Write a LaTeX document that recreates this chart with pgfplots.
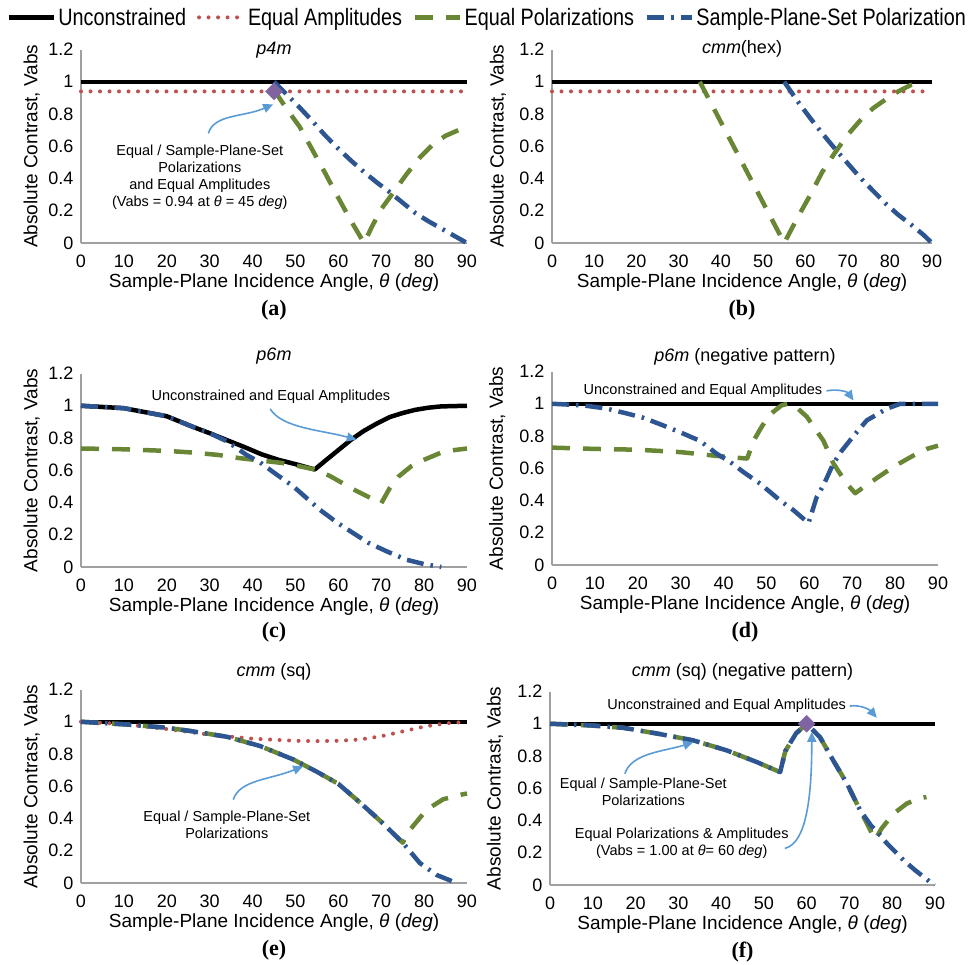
\documentclass[border=0pt]{standalone}
\usepackage{fontspec}
\setmainfont{Liberation Sans}
\newfontfamily\lserif{Liberation Serif}
\newfontfamily\legfont[FakeStretch=0.835]{Liberation Sans}
\usepackage{pgfplots}
\pgfplotsset{compat=1.18}
\usetikzlibrary{arrows.meta}
\definecolor{redc}{HTML}{C0504D}
\definecolor{grnc}{RGB}{104,134,52}
\definecolor{bluc}{RGB}{45,85,145}
\definecolor{arrc}{HTML}{5B9BD5}
\definecolor{purp}{HTML}{8064A2}
\definecolor{axgray}{RGB}{160,160,160}

\tikzset{
 blk/.style={black, line width=4.5pt, line join=round},
 redd/.style={color=redc, line width=4pt, line cap=round, dash pattern=on 0pt off 9.5pt},
 grn/.style={color=grnc, line width=4.5pt, line join=round, dash pattern=on 18pt off 13pt},
 blu/.style={color=bluc, line width=4.5pt, line join=round, dash pattern=on 17pt off 7pt on 2.5pt off 7pt},
 ann/.style={font=\fontsize{14.5}{17}\selectfont, align=center, inner sep=0pt},
 arr/.style={draw=arrc, line width=1.6pt, -{Triangle[length=10pt,width=9pt]}},
 sub/.style={font=\lserif\bfseries\fontsize{22}{22}\selectfont},
}
\pgfplotsset{
 panel/.style={
  scale only axis, width=386pt, height=193.5pt,
  xmin=0, xmax=90, ymin=0, ymax=1.2,
  xtick={0,10,...,90}, ytick={0,0.2,0.4,0.6,0.8,1,1.2},
  axis x line=bottom, axis y line=left,
  axis line style={-, draw=axgray, line width=1.3pt},
  tick style={draw=none},
  clip=false,
  /pgf/number format/assume math mode=true,
  ticklabel style={font=\fontsize{18}{18}\selectfont},
  xticklabel style={anchor=center, yshift=-16pt},
  yticklabel style={anchor=east, xshift=-2pt},
  xlabel={Sample-Plane Incidence Angle, \textit{θ} (\textit{deg})},
  ylabel={Absolute Contrast, Vabs},
  label style={font=\fontsize{19}{19}\selectfont},
  xlabel style={at={(axis description cs:0.5,-0.207)}, anchor=center},
  title style={font=\fontsize{18}{18}\selectfont, anchor=center},
 },
}

\begin{document}
\begin{tikzpicture}
\useasboundingbox (0,0) rectangle (968pt,-964pt);

% (a)
\begin{axis}[panel, at={(81pt,-243pt)}, anchor=south west,
  ylabel style={at={(axis description cs:-0.128,0.5)}, anchor=center},
  title={\textit{p4m}}, title style={at={(axis description cs:0.5,0.964)}},
  legend columns=4,
  legend image code/.code={\draw[#1] (0pt,0pt) -- (45pt,0pt);},
  legend style={at={(axis description cs:1.053,1.166)}, anchor=center, draw=none, fill=none,
    font=\legfont\fontsize{23.7}{24}\selectfont, nodes={inner sep=2pt},
    /tikz/every even column/.append style={column sep=9pt}}]
\addplot[blk] coordinates {(0,1) (90,1)};
\addlegendentry{Unconstrained}
\addplot[redd] coordinates {(0,0.94) (90,0.94)};
\addlegendentry{Equal Amplitudes}
\addplot[grn] coordinates {(45,0.95) (48,0.83) (51,0.72) (54,0.575) (57,0.43) (60,0.28) (63,0.135) (66,0) (68,0.11) (70,0.21) (73,0.32) (76,0.43) (79,0.53) (82,0.61) (85,0.665) (88,0.70) (90,0.71)};
\addlegendentry{Equal Polarizations}
\addplot[blu] coordinates {(45,1.0) (48,0.92) (51,0.84) (54,0.755) (57,0.665) (60,0.585) (63,0.51) (66,0.44) (69,0.375) (72,0.315) (75,0.25) (78,0.185) (81,0.135) (84,0.09) (87,0.045) (90,0)};
\addlegendentry{Sample-Plane-Set Polarization}
\addplot[only marks, mark=square*, mark size=6pt, mark options={rotate=45, fill=purp, draw=purp, solid}, forget plot] coordinates {(45,0.94)};
\draw[arr] (axis cs:29.7,0.68) .. controls (axis cs:31,0.80) and (axis cs:38,0.78) .. (axis cs:44.8,0.86);
\node[ann] at (axis cs:27.7,0.407) {Equal / Sample-Plane-Set\\Polarizations\\and Equal Amplitudes\\(Vabs = 0.94 at \textit{θ} = 45 \textit{deg})};
\node[sub] at (axis description cs:0.5,-0.346) {(a)};
\end{axis}

% (b)
\begin{axis}[panel, width=380pt, at={(552pt,-243pt)}, anchor=south west,
  ylabel style={at={(axis description cs:-0.142,0.5)}, anchor=center},
  title={\textit{cmm}(hex)}, title style={at={(axis description cs:0.5,0.974)}}]
\addplot[blk] coordinates {(0,1) (90,1)};
\addplot[redd] coordinates {(0,0.94) (90,0.94)};
\addplot[grn] coordinates {(35,1.0) (40,0.75) (45,0.5) (50,0.25) (55,0) (58,0.15) (61,0.29) (64,0.44) (67,0.56) (70,0.67) (73,0.76) (76,0.835) (79,0.89) (82,0.94) (85,0.98) (88,1.0)};
\addplot[blu] coordinates {(55,1.0) (58,0.885) (61,0.78) (64,0.68) (67,0.585) (70,0.495) (73,0.405) (76,0.325) (79,0.245) (82,0.175) (85,0.115) (88,0.05) (90,0)};
\node[sub] at (axis description cs:0.5,-0.346) {(b)};
\end{axis}

% (c)
\begin{axis}[panel, at={(81pt,-567pt)}, anchor=south west,
  ylabel style={at={(axis description cs:-0.128,0.5)}, anchor=center},
  title={\textit{p6m}}, title style={at={(axis description cs:0.5,1.057)}}]
\addplot[blk] coordinates {(0,1) (10,0.985) (20,0.935) (26,0.87) (30,0.83) (34,0.787) (38,0.745) (42,0.70) (46,0.665) (50,0.638) (54.5,0.605) (57,0.66) (60,0.725) (63,0.79) (66,0.845) (69,0.89) (72,0.93) (75,0.955) (78,0.975) (81,0.988) (84,0.996) (90,1.0)};
\addplot[grn] coordinates {(0,0.735) (10,0.73) (20,0.72) (26,0.71) (32,0.695) (37,0.675) (42,0.66) (47,0.645) (50,0.63) (54.5,0.605) (58,0.565) (61,0.52) (64,0.475) (67,0.435) (70,0.395) (72,0.49) (74,0.56) (77,0.625) (80,0.665) (84,0.71) (87,0.725) (90,0.735)};
\addplot[blu] coordinates {(0,1) (10,0.985) (20,0.935) (26,0.87) (30,0.83) (34,0.78) (38.6,0.695) (41.7,0.65) (45,0.585) (49.5,0.50) (55.7,0.355) (60,0.27) (63.5,0.21) (67,0.15) (71.3,0.097) (75.9,0.045) (80,0.018) (84,0)};
\draw[arr] (axis cs:44.1,0.98) .. controls (axis cs:47,0.86) and (axis cs:56,0.85) .. (axis cs:64.3,0.79);
\node[ann] at (axis cs:44.3,1.055) {Unconstrained and Equal Amplitudes};
\node[sub] at (axis description cs:0.5,-0.336) {(c)};
\end{axis}

% (d)
\begin{axis}[panel, at={(552pt,-565pt)}, anchor=south west,
  ylabel style={at={(axis description cs:-0.142,0.5)}, anchor=center},
  title={\textit{p6m} (negative pattern)}, title style={at={(axis description cs:0.5,1.047)}}]
\addplot[blk] coordinates {(0,1) (90,1)};
\addplot[grn] coordinates {(0,0.728) (10,0.72) (20,0.715) (30,0.70) (39,0.675) (45.5,0.66) (47,0.77) (48.5,0.84) (50,0.905) (51.6,0.95) (53.5,0.99) (55,1.0) (56.5,0.99) (59.4,0.92) (63.3,0.77) (65.6,0.63) (68.7,0.505) (70.7,0.445) (73,0.49) (75,0.526) (78,0.58) (81,0.63) (84,0.675) (87.4,0.72) (90,0.74)};
\addplot[blu] coordinates {(0,1.0) (7.3,0.99) (12.75,0.97) (17.4,0.94) (21.3,0.913) (25.9,0.866) (30.6,0.815) (34.5,0.77) (38.4,0.69) (41.5,0.64) (44.6,0.577) (48.5,0.505) (53.2,0.40) (56.3,0.34) (59.8,0.26) (61.7,0.42) (63.3,0.495) (65.6,0.63) (67.6,0.71) (70.3,0.80) (73.4,0.897) (78.1,0.97) (81.2,1.0) (90,1.0)};
\draw[arr] (axis cs:64,1.08) .. controls (axis cs:67,1.095) and (axis cs:69,1.07) .. (axis cs:70.3,1.02);
\node[ann] at (axis cs:35.2,1.08) {Unconstrained and Equal Amplitudes};
\node[sub] at (axis description cs:0.5,-0.346) {(d)};
\end{axis}

% (e)
\begin{axis}[panel, at={(81pt,-883pt)}, anchor=south west,
  ylabel style={at={(axis description cs:-0.128,0.5)}, anchor=center},
  title={\textit{cmm} (sq)}, title style={at={(axis description cs:0.5,1.062)}}]
\addplot[blk] coordinates {(0,1) (90,1)};
\addplot[redd] coordinates {(0,1) (10,0.985) (20,0.955) (30,0.92) (40,0.895) (50,0.882) (55,0.88) (60,0.882) (65,0.89) (70,0.91) (75,0.94) (80,0.97) (85,0.99) (90,1.0)};
\addplot[grn] coordinates {(0,1) (10.7,0.983) (20,0.963) (26.2,0.94) (34,0.907) (41.7,0.85) (49.5,0.766) (55,0.69) (60,0.615) (65,0.50) (70,0.38) (75,0.25) (76.7,0.33) (80.6,0.455) (84.5,0.52) (89,0.55) (90,0.555)};
\addplot[blu] coordinates {(0,1) (10.7,0.983) (20,0.963) (26.2,0.94) (34,0.907) (41.7,0.85) (49.5,0.766) (55,0.69) (60,0.615) (65,0.50) (70,0.38) (75,0.25) (79,0.124) (82.9,0.05) (87.6,0)};
\draw[arr] (axis cs:35.5,0.517) .. controls (axis cs:37,0.64) and (axis cs:44,0.64) .. (axis cs:51.8,0.724);
\node[ann] at (axis cs:34,0.36) {Equal / Sample-Plane-Set\\Polarizations};
\node[sub] at (axis description cs:0.5,-0.346) {(e)};
\end{axis}

% (f)
\begin{axis}[panel, width=385pt, at={(550pt,-885pt)}, anchor=south west,
  ylabel style={at={(axis description cs:-0.143,0.5)}, anchor=center},
  title={\textit{cmm} (sq) (negative pattern)}, title style={at={(axis description cs:0.5,1.073)}}]
\addplot[blk] coordinates {(0,1) (90,1)};
\addplot[grn] coordinates {(0,1) (9.35,0.99) (17.1,0.975) (24.9,0.94) (33.5,0.897) (41.3,0.835) (48.3,0.763) (53.8,0.70) (55,0.83) (57.5,0.94) (60,1.0) (63.1,0.917) (66.2,0.773) (69.4,0.63) (72.5,0.464) (74.5,0.36) (76,0.28) (77.5,0.35) (80.2,0.44) (83.4,0.505) (86,0.535) (88,0.546)};
\addplot[blu] coordinates {(0,1) (9.35,0.99) (17.1,0.975) (24.9,0.94) (33.5,0.897) (41.3,0.835) (48.3,0.763) (53.8,0.70) (55,0.83) (57.5,0.94) (60,1.0) (63.1,0.917) (66.2,0.773) (69.4,0.63) (72.5,0.464) (75,0.37) (76.5,0.33) (78.7,0.26) (82.6,0.155) (85.3,0.093) (88.8,0.02) (90,0)};
\addplot[only marks, mark=square*, mark size=6pt, mark options={rotate=45, fill=purp, draw=purp, solid}] coordinates {(60,1.0)};
\draw[arr] (axis cs:70.1,1.11) .. controls (axis cs:73,1.12) and (axis cs:75,1.08) .. (axis cs:76.4,1.037);
\draw[arr] (axis cs:17.5,0.69) .. controls (axis cs:19,0.82) and (axis cs:27,0.83) .. (axis cs:33.5,0.886);
\draw[arr] (axis cs:54.9,0.227) .. controls (axis cs:60,0.26) and (axis cs:61.2,0.55) .. (axis cs:61.2,0.95);
\node[ann] at (axis cs:41.3,1.109) {Unconstrained and Equal Amplitudes};
\node[ann] at (axis cs:21.8,0.577) {Equal / Sample-Plane-Set\\Polarizations};
\node[ann] at (axis cs:30.8,0.258) {Equal Polarizations \& Amplitudes\\(Vabs = 1.00 at \textit{θ}= 60 \textit{deg})};
\node[sub] at (axis description cs:0.5,-0.346) {(f)};
\end{axis}
\end{tikzpicture}
\end{document}
